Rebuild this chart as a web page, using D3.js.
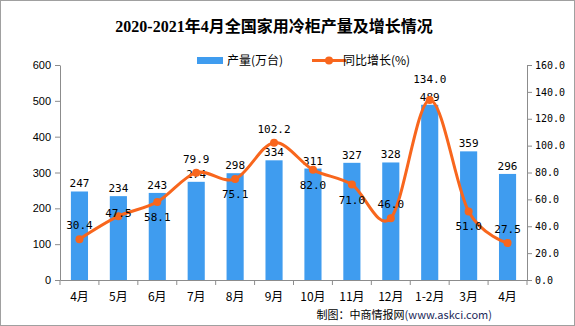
<!DOCTYPE html>
<html>
<head>
<meta charset="utf-8">
<script src="https://cdn.jsdelivr.net/npm/d3@7"></script>
<style>
  body { margin: 0; background: #fff; }
  svg { display: block; }
</style>
</head>
<body>
<svg id="chart" width="575" height="326"></svg>
<script>
// data
const months = ["4月", "5月", "6月", "7月", "8月", "9月", "10月", "11月", "12月", "1-2月", "3月", "4月 "];
const output = [247, 234, 243, 274, 298, 334, 311, 327, 328, 489, 359, 296];
const growth = [30.4, 47.5, 58.1, 79.9, 75.1, 102.2, 82.0, 71.0, 46.0, 134.0, 51.0, 27.5];
const leftTicks = [0, 100, 200, 300, 400, 500, 600];
const rightTicks = [0, 20, 40, 60, 80, 100, 120, 140, 160];

// where each growth label sits relative to its point
const growthLabelPlace = ["above", "at", "below", "above", "below", "above", "below", "below", "above", "high", "below", "above"];

const svg = d3.select("#chart");
const W = 575, H = 326;
const plotL = 60, plotR = 527, plotT = 65, plotB = 280;

const barColor = "#3f9cef";
const lineColor = "#f8661d";
const axisColor = "#8c8c8c";
const monoFont = "'DejaVu Sans Mono', 'Liberation Mono', monospace";
const cjkFont = "'Noto Sans CJK SC', sans-serif";

svg.append("rect")
  .attr("x", 0.5).attr("y", 0.5)
  .attr("width", W - 1).attr("height", H - 1)
  .attr("fill", "#fff").attr("stroke", "#a0a0a0");

// title
svg.append("text")
  .attr("x", 274).attr("y", 32)
  .attr("text-anchor", "middle")
  .attr("font-family", "'Liberation Serif', 'Noto Sans CJK SC', serif")
  .attr("font-weight", "bold")
  .attr("font-size", 16)
  .text("2020-2021年4月全国家用冷柜产量及增长情况");

// scales
const xBand = d3.scaleBand().domain(months).range([plotL, plotR]).padding(0);
const xBar = d3.scaleBand().domain(months).range([plotL, plotR])
  .paddingInner(0.56).paddingOuter(0.28);
const yLeft = d3.scaleLinear().domain([0, 600]).range([plotB, plotT]);
const yRight = d3.scaleLinear().domain([0, 160]).range([plotB, plotT]);
const cx = function (d) { return xBand(d) + xBand.bandwidth() / 2; };

// left axis
const gL = svg.append("g")
  .attr("transform", "translate(" + plotL + ",0)")
  .call(d3.axisLeft(yLeft).tickValues(leftTicks).tickSize(5).tickPadding(4).tickSizeOuter(0));
gL.selectAll("text").attr("font-family", "'Liberation Sans', Arial, sans-serif").attr("font-size", 11).attr("fill", "#000");

// right axis
const gR = svg.append("g")
  .attr("transform", "translate(" + plotR + ",0)")
  .call(d3.axisRight(yRight).tickValues(rightTicks).tickSize(5).tickPadding(3).tickSizeOuter(0)
    .tickFormat(d3.format(".1f")));
gR.selectAll("text").attr("font-family", monoFont).attr("font-size", 10).attr("fill", "#000");

// bottom axis: ticks at band boundaries
const gB = svg.append("g")
  .attr("transform", "translate(0," + plotB + ")")
  .call(d3.axisBottom(xBand).tickSize(0).tickPadding(12).tickSizeOuter(0));
gB.selectAll("text").attr("font-family", cjkFont).attr("font-size", 12).attr("fill", "#000");
gB.selectAll(".bound")
  .data(months.concat(["end"]))
  .enter().append("line")
  .attr("class", "bound")
  .attr("x1", function (d, i) { return plotL + i * xBand.step(); })
  .attr("x2", function (d, i) { return plotL + i * xBand.step(); })
  .attr("y1", 0).attr("y2", 5);

svg.selectAll(".domain, .tick line, .bound").attr("stroke", axisColor);

// bars
svg.append("g").selectAll("rect")
  .data(output)
  .enter().append("rect")
  .attr("x", function (d, i) { return xBar(months[i]); })
  .attr("y", function (d) { return yLeft(d); })
  .attr("width", xBar.bandwidth())
  .attr("height", function (d) { return plotB - yLeft(d); })
  .attr("fill", barColor);

// bar labels
svg.append("g").selectAll("text")
  .data(output)
  .enter().append("text")
  .attr("x", function (d, i) { return cx(months[i]); })
  .attr("y", function (d) { return yLeft(d) - 4; })
  .attr("text-anchor", "middle")
  .attr("font-family", monoFont)
  .attr("font-size", 11)
  .text(function (d) { return d; });

// growth line
const line = d3.line()
  .x(function (d, i) { return cx(months[i]); })
  .y(function (d) { return yRight(d); })
  .curve(d3.curveCardinal.tension(0));

svg.append("path")
  .datum(growth)
  .attr("fill", "none")
  .attr("stroke", lineColor)
  .attr("stroke-width", 3)
  .attr("d", line);

svg.append("g").selectAll("circle")
  .data(growth)
  .enter().append("circle")
  .attr("cx", function (d, i) { return cx(months[i]); })
  .attr("cy", function (d) { return yRight(d); })
  .attr("r", 4)
  .attr("fill", lineColor);

// growth labels
svg.append("g").selectAll("text")
  .data(growth)
  .enter().append("text")
  .attr("x", function (d, i) { return cx(months[i]); })
  .attr("y", function (d, i) {
    const p = growthLabelPlace[i];
    if (p == "high") return yRight(d) - 17;
    if (p == "above") return yRight(d) - 10;
    if (p == "below") return yRight(d) + 19;
    return yRight(d) + 1;
  })
  .attr("text-anchor", "middle")
  .attr("font-family", monoFont)
  .attr("font-size", 11)
  .text(function (d) { return d3.format(".1f")(d); });

// legend
const lg = svg.append("g");
lg.append("rect").attr("x", 197).attr("y", 57).attr("width", 26).attr("height", 7).attr("fill", barColor);
lg.append("text").attr("x", 227).attr("y", 65)
  .attr("font-family", cjkFont).attr("font-size", 12).text("产量(万台)");
lg.append("line").attr("x1", 312).attr("x2", 346).attr("y1", 60.5).attr("y2", 60.5)
  .attr("stroke", lineColor).attr("stroke-width", 3);
lg.append("circle").attr("cx", 329).attr("cy", 60.5).attr("r", 4).attr("fill", lineColor);
lg.append("text").attr("x", 343).attr("y", 65)
  .attr("font-family", cjkFont).attr("font-size", 12).text("同比增长(%)");

// source
svg.append("text")
  .attr("x", 492).attr("y", 319)
  .attr("text-anchor", "end")
  .attr("font-family", cjkFont)
  .attr("font-size", 11)
  .html('制图：中商情报网<tspan fill="#1c2a5a">(www.askci.com)</tspan>');
</script>
</body>
</html>
